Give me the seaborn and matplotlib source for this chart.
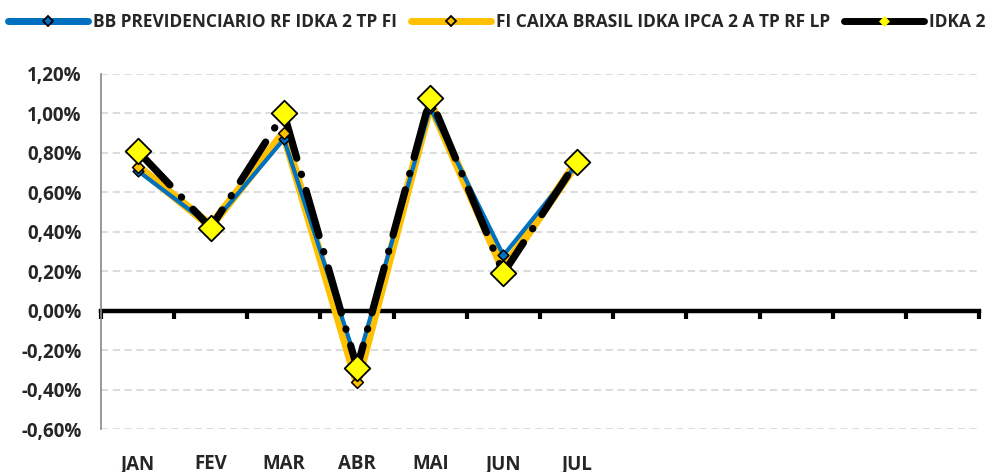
import numpy as np
import pandas as pd
import matplotlib
matplotlib.use('Agg')
import matplotlib.pyplot as plt
from matplotlib.lines import Line2D
from matplotlib.ticker import FuncFormatter
import seaborn as sns

# ── Data (monthly returns, %) ────────────────────────────────────────────────
MONTHS = ['JAN', 'FEV', 'MAR', 'ABR', 'MAI', 'JUN', 'JUL']
N_SLOTS = 12  # axis reserves room for the whole year
BB_PREV = [0.71, 0.43, 0.87, -0.27, 1.03, 0.28, 0.74]
CAIXA_IDKA = [0.73, 0.43, 0.90, -0.36, 1.05, 0.21, 0.75]
IDKA2 = [0.81, 0.42, 1.00, -0.29, 1.08, 0.19, 0.755]

NAMES = ['BB PREVIDENCIARIO RF IDKA 2 TP FI',
         'FI CAIXA BRASIL IDKA IPCA 2 A TP RF LP',
         'IDKA 2']

BLUE, ORANGE, YELLOW = '#0070C0', '#FFC000', '#FFFF00'

df = pd.DataFrame({'pos': np.arange(len(MONTHS)),
                   'bb': BB_PREV, 'caixa': CAIXA_IDKA, 'idka': IDKA2})

sns.set_style('white')
plt.rcParams['font.family'] = ['Liberation Sans Narrow', 'Open Sans', 'DejaVu Sans']
plt.rcParams['font.weight'] = 'bold'

fig = plt.figure(figsize=(10.06, 4.72), dpi=100)
ax = fig.add_axes([101/1006, 1-429/472, 878/1006, 355/472])

# lines
sns.lineplot(data=df, x='pos', y='caixa', color=ORANGE, lw=6.5, ax=ax,
             solid_capstyle='round', zorder=2)
sns.lineplot(data=df, x='pos', y='bb', color=BLUE, lw=3, ax=ax, zorder=2.1)
sns.lineplot(data=df, x='pos', y='idka', color='black', lw=5.2, ax=ax,
             linestyle=(0, (6.5, 2.3, 0.05, 2.3)), dash_capstyle='round',
             zorder=2.2)

# markers
sns.scatterplot(data=df, x='pos', y='bb', marker='D', s=30, color=BLUE,
                edgecolor='black', linewidth=1.1, ax=ax, zorder=3)
sns.scatterplot(data=df, x='pos', y='caixa', marker='D', s=36, color=ORANGE,
                edgecolor='black', linewidth=1.1, ax=ax, zorder=3.1)
sns.scatterplot(data=df, x='pos', y='idka', marker='D', s=170, color=YELLOW,
                edgecolor='black', linewidth=1.3, ax=ax, zorder=3.2)

# axes
ax.set_xlim(-0.5, N_SLOTS - 0.5)
ax.set_ylim(-0.6, 1.2)
ax.set_yticks(np.arange(-0.6, 1.21, 0.2))
ax.yaxis.set_major_formatter(FuncFormatter(lambda v, _: f'{v:.2f}%'.replace('.', ',')))
ax.set_xticks(range(len(MONTHS)))
ax.set_xticklabels(MONTHS)
ax.set_xlabel('')
ax.set_ylabel('')
ax.tick_params(axis='x', length=0, pad=18, labelsize=13.5)
ax.tick_params(axis='y', length=5, width=1.2, color='#868686', direction='out',
               labelsize=13.5, pad=9)
for lab in ax.get_xticklabels() + ax.get_yticklabels():
    lab.set_fontweight('bold')

ax.yaxis.grid(True, color='#D9D9D9', linestyle=(0, (4, 2.5)), lw=1.3)
ax.xaxis.grid(False)
for side in ['top', 'right', 'bottom']:
    ax.spines[side].set_visible(False)
ax.spines['left'].set_color('#868686')
ax.spines['left'].set_linewidth(1.2)

# zero line with category-boundary ticks
zero = ax.secondary_xaxis(0.6 / 1.8)
zero.set_zorder(1)
zero.set_xticks(np.arange(-0.5, N_SLOTS, 1.0))
zero.set_xticklabels([])
zero.tick_params(length=6, width=3, color='black', direction='out')
zero.spines['bottom'].set_color('black')
zero.spines['bottom'].set_linewidth(3.2)

# legend
handles = [
    Line2D([], [], color=BLUE, lw=5, solid_capstyle='round', marker='D',
           ms=5, mfc=BLUE, mec='black', mew=1.3),
    Line2D([], [], color=ORANGE, lw=5, solid_capstyle='round', marker='D',
           ms=5, mfc=ORANGE, mec='black', mew=1.3),
    Line2D([], [], color='black', lw=5, solid_capstyle='round', marker='D',
           ms=5, mfc=YELLOW, mec=YELLOW, mew=0.5),
]
fig.legend(handles, NAMES, loc='center left', bbox_to_anchor=(0.008, 0.953),
           ncol=3, frameon=False, handlelength=4.6, handletextpad=0.3,
           columnspacing=0.8, borderpad=0, borderaxespad=0,
           prop={'size': 12.5, 'weight': 'bold'})

fig.savefig('out.png', dpi=100)
